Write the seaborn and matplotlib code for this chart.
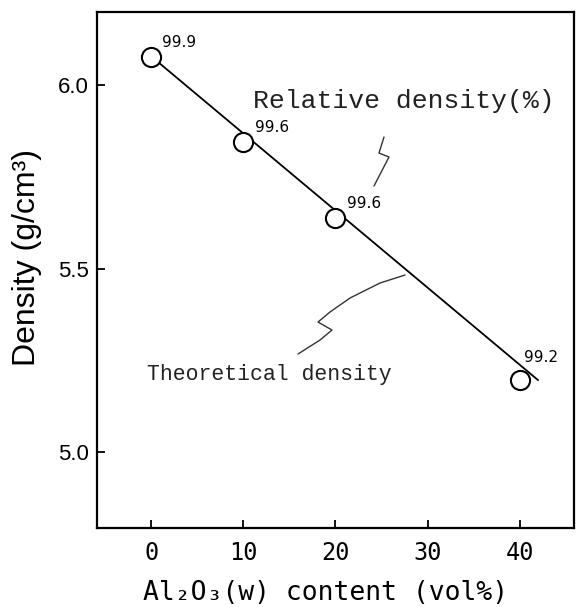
import matplotlib
matplotlib.use("Agg")
import matplotlib.pyplot as plt
import seaborn as sns
import pandas as pd

# data
al2o3_content = [0, 10, 20, 40]
measured_density = [6.076, 5.845, 5.638, 5.196]
relative_density_labels = ["99.9", "99.6", "99.6", "99.2"]
theory_x = [0, 42]
theory_density = [6.078, 5.196]
x_ticks = [0, 10, 20, 30, 40]
y_ticks = [5.0, 5.5, 6.0]

sns.set_style("ticks")
plt.rcParams['font.family'] = ['Liberation Sans', 'DejaVu Sans']
plt.rcParams['text.color'] = 'black'
plt.rcParams['axes.labelcolor'] = 'black'
plt.rcParams['xtick.color'] = 'black'
plt.rcParams['ytick.color'] = 'black'

fig = plt.figure(figsize=(5.76, 6.07), dpi=100)
ax = fig.add_axes([0.1684, 0.1301, 0.8281, 0.8501])

df_pts = pd.DataFrame({"x": al2o3_content, "y": measured_density})
df_line = pd.DataFrame({"x": theory_x, "y": theory_density})

sns.lineplot(data=df_line, x="x", y="y", ax=ax, color="black", linewidth=1.3)
sns.scatterplot(data=df_pts, x="x", y="y", ax=ax, s=190, facecolor="white",
                edgecolor="black", linewidth=1.5, zorder=3)

offsets = [(8, 5), (8, 5), (8, 5), (3, 11)]
for x, y, lab, off in zip(al2o3_content, measured_density, relative_density_labels, offsets):
    ax.annotate(lab, (x, y), xytext=off, textcoords="offset points",
                fontsize=11, family="DejaVu Sans", ha="left", va="bottom", color="black")

ax.set_xlim(-5.9, 45.9)
ax.set_ylim(4.793, 6.199)
ax.set_xticks(x_ticks)
ax.set_yticks(y_ticks)
ax.set_xticklabels([str(t) for t in x_ticks], family="DejaVu Sans Mono", fontsize=17)
ax.set_yticklabels([f"{t:.1f}" for t in y_ticks], fontsize=16)
ax.tick_params(direction="in", length=6, width=1.3, top=False, right=False, pad=6,
               colors="black")
ax.tick_params(axis="x", pad=9)

for sp in ax.spines.values():
    sp.set_linewidth(1.6)
    sp.set_color("black")

ax.set_xlabel("Al₂O₃(w) content (vol%)", family="DejaVu Sans Mono", fontsize=19)
ax.set_ylabel("Density (g/cm³)", fontsize=23)
ax.xaxis.set_label_coords(0.48, -0.126)
ax.xaxis.label.set_va("center")
ax.yaxis.set_label_coords(-0.147, 0.525)
ax.yaxis.label.set_va("center")

# annotation text
ax.text((253 - 97) / 477, (528 - 101) / 516, "Relative density(%)", transform=ax.transAxes,
        family="Liberation Mono", fontsize=19, ha="left", va="center", color="#222222")
ax.text((147 - 97) / 477, (528 - 374) / 516, "Theoretical density", transform=ax.transAxes,
        family="Liberation Mono", fontsize=15.5, ha="left", va="center", color="#222222")

# leader squiggles (pixel positions converted to axes fraction)
def px_to_ax(pts):
    return [(px - 97) / 477 for px, py in pts], [(528 - py) / 516 for px, py in pts]

rel_sq = [(374, 186), (389, 157), (379, 153), (384, 137)]
theo_sq = [(405, 275), (380, 283), (350, 298), (330, 312), (318, 322), (332, 330),
           (320, 340), (298, 354)]
for path in (rel_sq, theo_sq):
    xs, ys = px_to_ax(path)
    ax.plot(xs, ys, transform=ax.transAxes, color="#333333", linewidth=1.0)

fig.savefig("out.png", dpi=100)
